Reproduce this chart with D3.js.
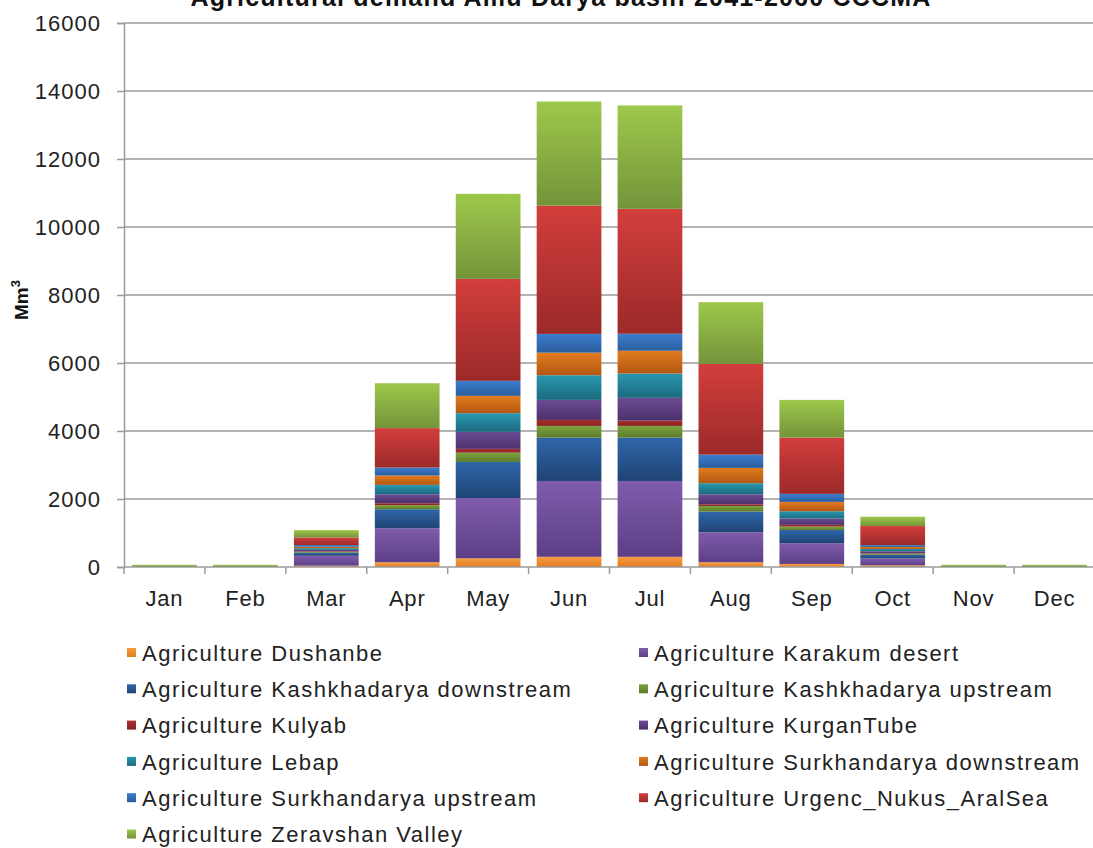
<!DOCTYPE html>
<html>
<head>
<meta charset="utf-8">
<script src="https://cdn.jsdelivr.net/npm/d3@7"></script>
<style>
  html, body { margin: 0; padding: 0; background: #fff; overflow: hidden; }
  svg { display: block; font-family: "Liberation Sans", Arial, sans-serif; }
</style>
</head>
<body>
<svg id="chart" width="1093" height="848"></svg>
<script>
// Monthly agricultural water demand (Mm3), Amu Darya basin, 2041-2060, CCCMA
const months = ["Jan","Feb","Mar","Apr","May","Jun","Jul","Aug","Sep","Oct","Nov","Dec"];

const seriesNames = [
  "Agriculture Dushanbe",
  "Agriculture Karakum desert",
  "Agriculture Kashkhadarya downstream",
  "Agriculture Kashkhadarya upstream",
  "Agriculture Kulyab",
  "Agriculture KurganTube",
  "Agriculture Lebap",
  "Agriculture Surkhandarya downstream",
  "Agriculture Surkhandarya upstream",
  "Agriculture Urgenc_Nukus_AralSea",
  "Agriculture Zeravshan Valley"
];

const dushanbe       = [0, 0, 40, 140, 255, 300, 300, 140, 90, 50, 0, 0];
const karakumDesert  = [0, 0, 290, 1000, 1775, 2230, 2230, 880, 610, 200, 0, 0];
const kashkhadaryaDn = [0, 0, 90, 560, 1060, 1275, 1275, 610, 390, 110, 0, 0];
const kashkhadaryaUp = [0, 0, 25, 120, 275, 345, 345, 165, 100, 30, 0, 0];
const kulyab         = [0, 0, 15, 55, 110, 175, 155, 50, 50, 15, 0, 0];
const kurganTube     = [0, 0, 45, 265, 500, 590, 670, 295, 185, 60, 0, 0];
const lebap          = [0, 0, 50, 275, 550, 725, 715, 325, 215, 65, 0, 0];
const surkhandaryaDn = [0, 0, 40, 275, 510, 665, 670, 450, 275, 60, 0, 0];
const surkhandaryaUp = [0, 0, 50, 235, 440, 550, 500, 390, 235, 55, 0, 0];
const urgencNukus    = [0, 0, 225, 1160, 3000, 3775, 3675, 2670, 1655, 560, 0, 0];
const zeravshan      = [65, 65, 215, 1320, 2500, 3060, 3040, 1815, 1110, 275, 65, 65];

const yTicks = [0, 2000, 4000, 6000, 8000, 10000, 12000, 14000, 16000];

const seriesValues = [dushanbe, karakumDesert, kashkhadaryaDn, kashkhadaryaUp, kulyab,
  kurganTube, lebap, surkhandaryaDn, surkhandaryaUp, urgencNukus, zeravshan];

// light (top) and dark (bottom) shade of each series' gradient fill
const shades = [
  ["#f89c42", "#e27d22"],
  ["#7f5cab", "#5d3f86"],
  ["#2f66aa", "#1f4474"],
  ["#7da43e", "#5c7b2b"],
  ["#ab2e2d", "#862222"],
  ["#6c4b95", "#4b316b"],
  ["#2a97b0", "#1c6a7e"],
  ["#e27b1f", "#b25812"],
  ["#3c7ecf", "#2b5d9c"],
  ["#d23e3c", "#9b2a29"],
  ["#9dc84b", "#74943a"]
];

const rows = months.map((m, i) => {
  const r = { month: m };
  seriesNames.forEach((s, k) => { r[s] = seriesValues[k][i]; });
  return r;
});

const svg = d3.select("#chart");
const margin = { left: 124, top: 23, right: -2, bottom: 281 };
const W = 1093, H = 848;
const plotW = W - margin.left - margin.right;
const plotH = H - margin.top - margin.bottom;

const defs = svg.append("defs");
shades.forEach((c, k) => {
  const g = defs.append("linearGradient")
    .attr("id", "grad" + k).attr("x1", 0).attr("y1", 0).attr("x2", 0).attr("y2", 1);
  g.append("stop").attr("offset", "0%").attr("stop-color", c[0]);
  g.append("stop").attr("offset", "100%").attr("stop-color", c[1]);
});

const x = d3.scaleBand().domain(months).range([0, plotW]).paddingInner(0.2).paddingOuter(0.1);
const y = d3.scaleLinear().domain([0, 16000]).range([plotH, 0]);

const g = svg.append("g").attr("transform", `translate(${margin.left},${margin.top})`);

// horizontal gridlines
g.append("g").selectAll("line").data(yTicks.slice(1)).join("line")
  .attr("x1", 0).attr("x2", plotW)
  .attr("y1", d => y(d)).attr("y2", d => y(d))
  .attr("stroke", "#9a9a9a").attr("stroke-width", 1.5);

// stacked bars
const stack = d3.stack().keys(seriesNames);
const layers = stack(rows);
g.append("g").selectAll("g").data(layers).join("g")
  .attr("fill", (d, k) => `url(#grad${k})`)
  .selectAll("rect").data(d => d).join("rect")
  .attr("x", d => x(d.data.month))
  .attr("width", x.bandwidth())
  .attr("y", d => y(d[1]))
  .attr("height", d => Math.max(0, y(d[0]) - y(d[1])));

// y axis
const yAxis = g.append("g")
  .call(d3.axisLeft(y).tickValues(yTicks).tickSize(7).tickPadding(16).tickFormat(d3.format("d")));
yAxis.select(".domain").attr("stroke", "#9a9a9a").attr("stroke-width", 1.5);
yAxis.selectAll(".tick line").attr("stroke", "#9a9a9a").attr("stroke-width", 1.5);
yAxis.selectAll(".tick text").attr("font-size", 22).attr("fill", "#222")
  .attr("letter-spacing", 1)
  .attr("font-family", "'Liberation Sans', Arial, sans-serif");

// x axis: ticks between categories
const xg = g.append("g").attr("transform", `translate(0,${plotH})`);
xg.append("line").attr("x1", 0).attr("x2", plotW).attr("y1", 0).attr("y2", 0)
  .attr("stroke", "#9a9a9a").attr("stroke-width", 1.5);
const bounds = d3.range(months.length + 1).map(i => i * x.step());
xg.selectAll("line.tk").data(bounds).join("line").attr("class", "tk")
  .attr("x1", d => d).attr("x2", d => d).attr("y1", 0).attr("y2", 7)
  .attr("stroke", "#9a9a9a").attr("stroke-width", 1.5);
xg.selectAll("text").data(months).join("text")
  .attr("x", d => x(d) + x.bandwidth() / 2)
  .attr("y", 39)
  .attr("text-anchor", "middle")
  .attr("font-size", 22).attr("fill", "#222").attr("letter-spacing", 0.8)
  .text(d => d);

// y axis title
svg.append("text")
  .attr("transform", "translate(28,300) rotate(-90)")
  .attr("text-anchor", "middle")
  .attr("font-size", 19).attr("font-weight", "bold").attr("fill", "#111")
  .html('Mm<tspan dy="-8" font-size="13">3</tspan>');

// chart title
svg.append("text")
  .attr("x", 561).attr("y", 6)
  .attr("text-anchor", "middle")
  .attr("font-size", 25).attr("font-weight", "bold").attr("fill", "#111")
  .attr("letter-spacing", 1.2)
  .text("Agricultural demand Amu Darya basin 2041-2060 CCCMA");

// legend, two columns
const legend = svg.append("g");
const colX = [127, 639];
const rowY0 = 653, rowStep = 36.3;
const items = legend.selectAll("g").data(seriesNames).join("g")
  .attr("transform", (d, i) => `translate(${colX[i % 2]},${rowY0 + Math.floor(i / 2) * rowStep})`);
items.append("rect")
  .attr("x", 0).attr("y", -5).attr("width", 9).attr("height", 9)
  .attr("fill", (d, k) => `url(#grad${k})`);
items.append("text")
  .attr("x", 15).attr("y", 0).attr("dy", "0.35em")
  .attr("font-size", 22).attr("fill", "#222").attr("letter-spacing", 1.5)
  .text(d => d);
</script>
</body>
</html>
